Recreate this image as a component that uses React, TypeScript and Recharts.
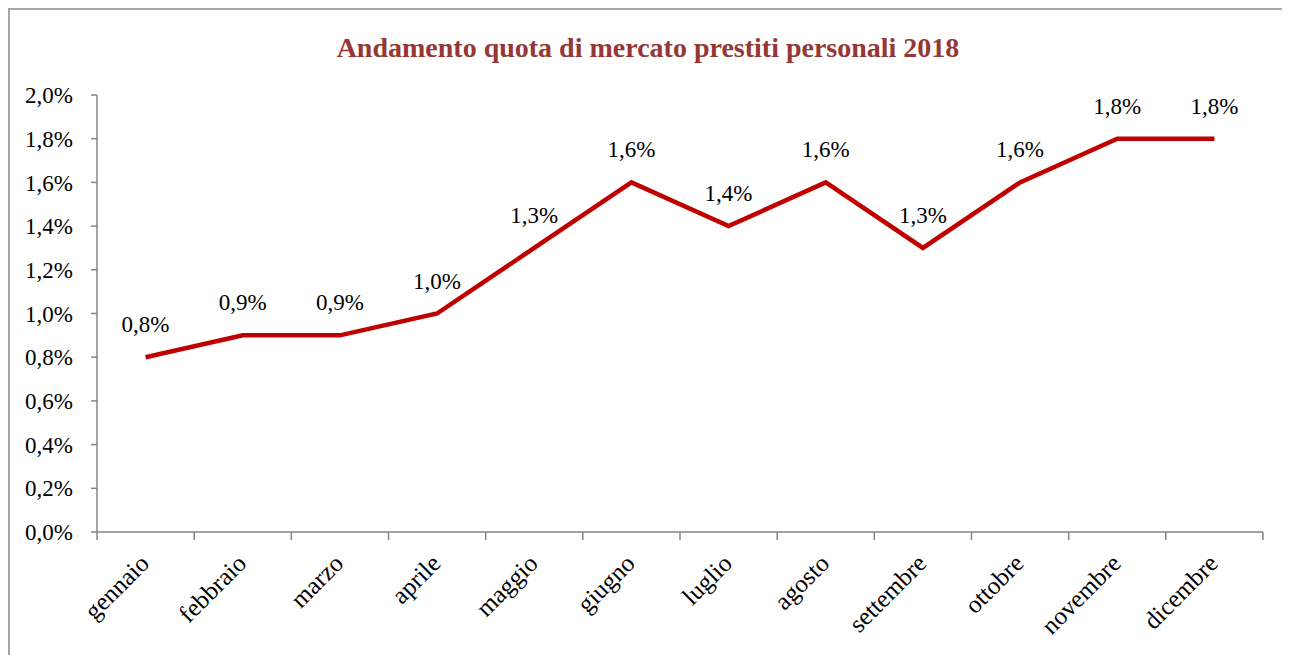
import React from 'react';
import { LineChart, Line, XAxis, YAxis, LabelList } from 'recharts';

const MONTHS = ['gennaio', 'febbraio', 'marzo', 'aprile', 'maggio', 'giugno', 'luglio', 'agosto', 'settembre', 'ottobre', 'novembre', 'dicembre'];
const SHARE = [0.8, 0.9, 0.9, 1.0, 1.3, 1.6, 1.4, 1.6, 1.3, 1.6, 1.8, 1.8];
const Y_TICKS = [0, 0.2, 0.4, 0.6, 0.8, 1.0, 1.2, 1.4, 1.6, 1.8, 2.0];
const TITLE = 'Andamento quota di mercato prestiti personali 2018';

const data = MONTHS.map((m, i) => ({ month: m, share: SHARE[i] }));

const FONT = '"Liberation Serif", "Times New Roman", serif';
const AXIS_COLOR = '#868686';
const fmt = (v: number) => v.toFixed(1).replace('.', ',') + '%';

const MonthTick = (props: any) => {
  const { x, y, payload, width, visibleTicksCount, index } = props;
  const half = width / (visibleTicksCount || MONTHS.length) / 2;
  const isLast = index === (visibleTicksCount || MONTHS.length) - 1;
  return (
    <g>
      <line x1={x - half} x2={x - half} y1={y} y2={y + 8} stroke={AXIS_COLOR} strokeWidth={1.5} />
      {isLast && <line x1={x + half} x2={x + half} y1={y} y2={y + 8} stroke={AXIS_COLOR} strokeWidth={1.5} />}
      <g transform={`translate(${x + 5},${y + 33})`}>
        <text x={0} y={0} textAnchor="end" transform="rotate(-45)" fontFamily={FONT} fontSize={25} fill="#000">
          {payload.value}
        </text>
      </g>
    </g>
  );
};

export default function App() {
  return (
    <div style={{ position: 'relative', width: 1276, height: 660, border: '2px solid #a6a6a6', background: '#fff' }}>
      <div
        style={{
          position: 'absolute', left: 0, top: 22, width: 1276, textAlign: 'center',
          fontFamily: FONT, fontWeight: 'bold', fontSize: 28, color: '#953735',
        }}
      >
        {TITLE}
      </div>
      <LineChart width={1276} height={660} data={data} margin={{ top: 85, right: 23, bottom: 28, left: 27 }}>
        <XAxis
          dataKey="month" scale="band" height={110} tickLine={false}
          stroke={AXIS_COLOR} strokeWidth={1.5}
          tickSize={0} tickMargin={0} interval={0} tick={<MonthTick />}
        />
        <YAxis
          domain={[0, 2]} ticks={Y_TICKS} tickFormatter={fmt} width={60} tickSize={6} tickMargin={18}
          stroke={AXIS_COLOR} strokeWidth={1.5} tickLine={{ stroke: AXIS_COLOR, strokeWidth: 1.5 }}
          tick={{ fill: '#000', fontFamily: FONT, fontSize: 23 }} interval={0}
        />
        <Line
          dataKey="share" stroke="#c00000" strokeWidth={4.5} dot={false}
          isAnimationActive={false} strokeLinejoin="miter"
        >
          <LabelList dataKey="share" position="top" offset={25} formatter={(v: any) => fmt(Number(v))}
            style={{ fill: '#000', fontFamily: FONT, fontSize: 23 }} />
        </Line>
      </LineChart>
    </div>
  );
}
